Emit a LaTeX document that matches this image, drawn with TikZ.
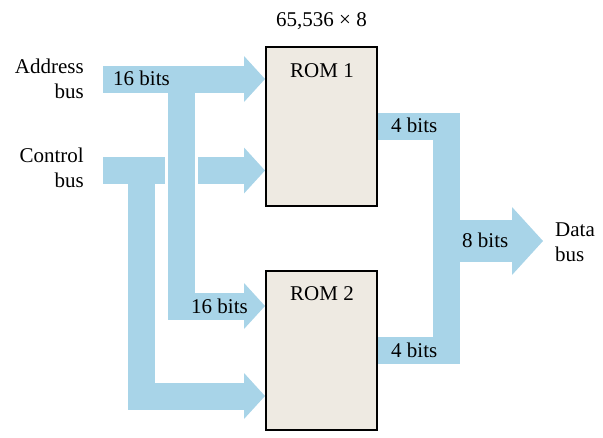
\documentclass[tikz,border=0pt]{standalone}
\usepackage{fontspec}
\setmainfont{Liberation Serif}
\usetikzlibrary{arrows.meta,positioning}
\definecolor{busblue}{RGB}{168,212,232}
\definecolor{romfill}{RGB}{238,234,226}
\tikzset{
  rom/.style={draw=black,line width=2.4pt,fill=romfill,
    minimum width=110.6pt,minimum height=158.6pt},
  bus/.style={draw=busblue,line width=27pt},
  busarrow/.style={bus,-{Triangle[length=21pt,width=46pt,line width=0pt]}},
  databus/.style={draw=busblue,line width=42pt,
    -{Triangle[length=31pt,width=68pt,line width=0pt]}},
  gap/.style={draw=white,line width=33pt},
}
\begin{document}
\begin{tikzpicture}[x=1pt,y=-1pt,inner sep=0pt,
    font=\fontsize{21}{25}\selectfont]
  \useasboundingbox (0,0) rectangle (603,437);
  \node[rom] (rom1) at (321.5,126.5) {};
  \node[rom,below=63pt of rom1] (rom2) {};
  \coordinate (a0) at (103,79);
  \coordinate (a1) at (181.5,79);
  \coordinate (a2) at (181.5,306);
  \coordinate (c0) at (103,170.5);
  \coordinate (c1) at (141.5,170.5);
  \coordinate (c2) at (141.5,396);
  \coordinate (d0) at (446.5,241);
  \coordinate (d1) at (543,241);
  \begin{scope}
    \draw[busarrow] (c0) to (c0 -| rom1.west);
    \draw[busarrow] (c1) to (c2) to (c2 -| rom2.west);
    \draw[gap] (a1) to (a2) to ([xshift=-2pt]a2 -| rom2.west);
    \draw[busarrow] (a1) to (a2) to (a2 -| rom2.west);
    \draw[busarrow] (a0) to (a0 -| rom1.west);
    \draw[bus] (rom1.east) -| (d0) |- (rom2.east);
    \draw[databus] (d0) to (d1);
  \end{scope}
  \draw
    (321.5,26) node[anchor=base] (size){65,536 × 8}
    (322,77) node[anchor=base] (name1){ROM 1}
    (322,300) node[anchor=base] (name2){ROM 2}
    (84,79) node[anchor=east,align=right] (addr){Address\\bus}
    (84,168) node[anchor=east,align=right] (ctrl){Control\\bus}
    (555,242) node[anchor=west,align=left] (data){Data\\bus}
    (113,85) node[anchor=base west] (abits){16 bits}
    (191,313) node[anchor=base west] (bbits){16 bits}
    (391,132) node[anchor=base west] (obits1){4 bits}
    (391,357) node[anchor=base west] (obits2){4 bits}
    (462,247) node[anchor=base west] (dbits){8 bits};
\end{tikzpicture}
\end{document}
